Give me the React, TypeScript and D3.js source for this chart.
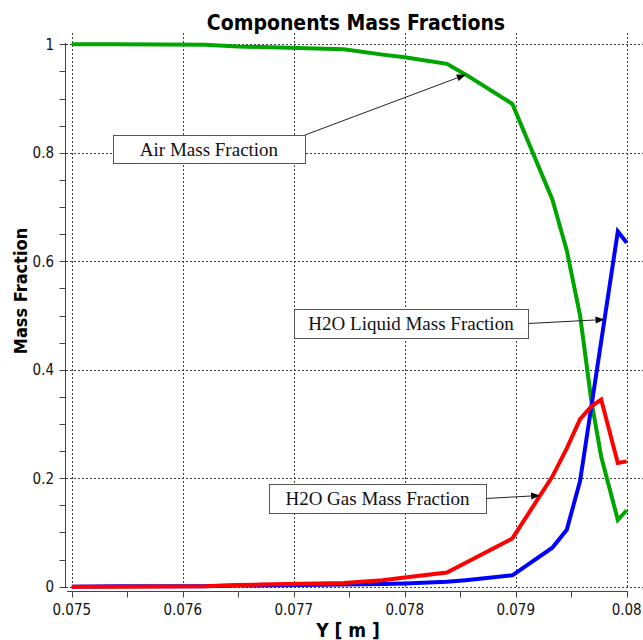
import React from 'react';
import * as d3 from 'd3';

// Wall-normal position Y [m] of each sampled node
const yPositions = [
  0.075, 0.0754, 0.0762, 0.0765, 0.0767, 0.07745, 0.0778, 0.078, 0.07838,
  0.07855, 0.07897, 0.07933, 0.07946, 0.07958, 0.07968, 0.07977, 0.07992, 0.08,
];

// Mass fraction of each component at those nodes
const airMassFraction = [
  1.0, 1.0, 0.999, 0.996, 0.995, 0.991, 0.981, 0.976, 0.964,
  0.944, 0.89, 0.714, 0.62, 0.5, 0.345, 0.24, 0.123, 0.141,
];
const h2oLiquidMassFraction = [
  0.0, 0.001, 0.001, 0.002, 0.002, 0.004, 0.005, 0.006, 0.009,
  0.012, 0.021, 0.072, 0.105, 0.195, 0.33, 0.452, 0.655, 0.634,
];
const h2oGasMassFraction = [
  0.0, 0.0, 0.001, 0.003, 0.004, 0.007, 0.012, 0.017, 0.026,
  0.044, 0.089, 0.203, 0.255, 0.309, 0.332, 0.345, 0.228, 0.231,
];

const seriesNames = ['Air Mass Fraction', 'H2O Liquid Mass Fraction', 'H2O Gas Mass Fraction'];
// Y position on each curve that its callout arrow points to
const calloutTargets = [0.07855, 0.0798, 0.07922];

const xTickValues = [0.075, 0.076, 0.077, 0.078, 0.079, 0.08];
const xTickLabels = ['0.075', '0.076', '0.077', '0.078', '0.079', '0.08'];
const yTickValues = [0, 0.2, 0.4, 0.6, 0.8, 1];
const yTickLabels = ['0', '0.2', '0.4', '0.6', '0.8', '1'];

const WIDTH = 643;
const HEIGHT = 640;
const SANS = "'DejaVu Sans Condensed', 'DejaVu Sans', sans-serif";
const SERIF = "'Liberation Serif', 'Times New Roman', serif";

const COLORS = ['#00a600', '#0000ff', '#ff0000'];
const seriesValues = [airMassFraction, h2oLiquidMassFraction, h2oGasMassFraction];

// Callout boxes: left, top, width, height, and where the arrow leaves the box
const calloutBoxes = [
  { x: 113, y: 135, w: 192, h: 28, from: 'topRight' },
  { x: 294, y: 309, w: 234, h: 29, from: 'right' },
  { x: 269, y: 484, w: 217, h: 29, from: 'right' },
];

export default function App() {
  const x = d3.scaleLinear().domain([0.075, 0.08]).range([71.8, 626.7]);
  const y = d3.scaleLinear().domain([0, 1]).range([586.7, 44.3]);

  const line = d3
    .line<[number, number]>()
    .x((d) => x(d[0]))
    .y((d) => y(d[1]));

  const xMinor = d3.range(0, 11).map((i) => 0.075 + i * 0.0005);
  const yMinor = d3.range(0, 21).map((i) => i * 0.05);

  const interp = (vals: number[], xv: number) => {
    const i = Math.max(1, d3.bisectLeft(yPositions, xv));
    const x0 = yPositions[i - 1];
    const x1 = yPositions[i];
    const t = (xv - x0) / (x1 - x0);
    return vals[i - 1] + t * (vals[i] - vals[i - 1]);
  };

  const axisX = 65.5;
  const axisY = 591.5;

  return (
    <svg
      width={WIDTH}
      height={HEIGHT}
      style={{ position: 'absolute', left: 0, top: 0, background: '#fff' }}
    >
      <rect x={0} y={0} width={WIDTH} height={HEIGHT} fill="#fff" />

      {/* grid */}
      <g stroke="#3a3a3a" strokeWidth={1} strokeDasharray="2,2">
        {xTickValues.map((v) => (
          <line
            key={'gx' + v}
            x1={Math.round(x(v)) + 0.5}
            x2={Math.round(x(v)) + 0.5}
            y1={33}
            y2={588}
          />
        ))}
        {yTickValues.map((v) => (
          <line
            key={'gy' + v}
            x1={66}
            x2={WIDTH}
            y1={Math.round(y(v)) + 0.5}
            y2={Math.round(y(v)) + 0.5}
          />
        ))}
      </g>

      {/* axes */}
      <g stroke="#444" strokeWidth={1} fill="none">
        <line x1={axisX} x2={axisX} y1={Math.round(y(1)) - 1} y2={Math.round(y(0)) + 1} />
        {yMinor.map((v) => (
          <line
            key={'yt' + v}
            x1={axisX - 6}
            x2={axisX}
            y1={Math.round(y(v)) + 0.5}
            y2={Math.round(y(v)) + 0.5}
          />
        ))}
        <line x1={67} x2={Math.round(x(0.08)) + 1} y1={axisY} y2={axisY} />
        {xMinor.map((v) => (
          <line
            key={'xt' + v}
            x1={Math.round(x(v)) + 0.5}
            x2={Math.round(x(v)) + 0.5}
            y1={axisY}
            y2={axisY + 6}
          />
        ))}
      </g>

      {/* tick labels */}
      <g fontFamily={SANS} fontSize={15} fill="#111">
        {xTickValues.map((v, i) => (
          <text key={'xl' + v} x={x(v)} y={615} textAnchor="middle">
            {xTickLabels[i]}
          </text>
        ))}
        {yTickValues.map((v, i) => (
          <text key={'yl' + v} x={54} y={y(v) + 5.5} textAnchor="end">
            {yTickLabels[i]}
          </text>
        ))}
      </g>

      {/* titles */}
      <text
        x={356}
        y={30}
        textAnchor="middle"
        fontFamily={SANS}
        fontWeight="bold"
        fontSize={21}
        fill="#000"
      >
        Components Mass Fractions
      </text>
      <text
        x={348}
        y={637}
        textAnchor="middle"
        fontFamily={SANS}
        fontWeight="bold"
        fontSize={19}
        fill="#000"
      >
        Y [ m ]
      </text>
      <text
        transform="translate(26.5,291) rotate(-90)"
        textAnchor="middle"
        fontFamily={SANS}
        fontWeight="bold"
        fontSize={18}
        fill="#000"
      >
        Mass Fraction
      </text>

      {/* curves */}
      <g fill="none" strokeWidth={4} strokeLinejoin="miter">
        {seriesValues.map((vals, s) => (
          <path
            key={'s' + s}
            d={line(yPositions.map((p, i) => [p, vals[i]] as [number, number])) || ''}
            stroke={COLORS[s]}
          />
        ))}
      </g>

      {/* callouts */}
      {calloutBoxes.map((b, i) => {
        const tx = x(calloutTargets[i]);
        const ty = y(interp(seriesValues[i], calloutTargets[i]));
        const sx = b.x + b.w;
        const sy = b.from === 'topRight' ? b.y : b.y + b.h / 2;
        const ang = Math.atan2(ty - sy, tx - sx);
        const L = 9;
        const Wd = 3.5;
        const bx = tx - L * Math.cos(ang);
        const by = ty - L * Math.sin(ang);
        const px = -Math.sin(ang) * Wd;
        const py = Math.cos(ang) * Wd;
        return (
          <g key={'c' + i}>
            <line x1={sx} y1={sy} x2={bx} y2={by} stroke="#222" strokeWidth={1} />
            <path
              d={`M${tx},${ty}L${bx + px},${by + py}L${bx - px},${by - py}Z`}
              fill="#000"
            />
            <rect
              x={b.x + 0.5}
              y={b.y + 0.5}
              width={b.w}
              height={b.h}
              fill="#fff"
              stroke="#555"
              strokeWidth={1}
            />
            <text
              x={b.x + b.w / 2}
              y={b.y + b.h / 2 + 6.5}
              textAnchor="middle"
              fontFamily={SERIF}
              fontSize={19}
              fill="#111"
            >
              {seriesNames[i]}
            </text>
          </g>
        );
      })}
    </svg>
  );
}
